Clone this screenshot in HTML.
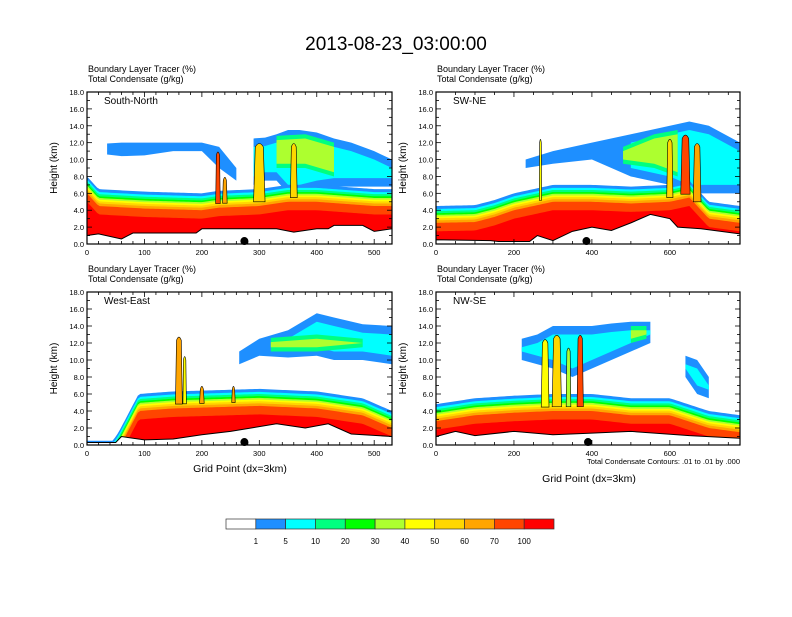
<!DOCTYPE html>
<html><head><meta charset="utf-8"><style>
body{margin:0;background:#fff;}
svg text{font-family:"Liberation Sans",Arial,sans-serif;fill:#000;}
</style></head><body>
<svg id="chart" width="792" height="612" xmlns="http://www.w3.org/2000/svg">
<rect width="792" height="612" fill="#fff"/>
<text x="396" y="50" font-size="19" text-anchor="middle">2013-08-23_03:00:00</text>
</svg>
<script>
const colors=["#ffffff","#1e8fff","#00ffff","#00ff80","#00ff00","#adff2f","#ffff00","#ffd700","#ffa500","#ff4500","#ff0000"];
const cbLabels=["1","5","10","20","30","40","50","60","70","100"];
const panelNames=["South-North","SW-NE","West-East","NW-SE"];
const xMax=[531,780,531,780];
const terrain1=[[0,1],[20,1.2],[60,0.6],[80,1.3],[190,1.3],[200,1.8],[330,1.8],[360,1.4],[400,1.8],[420,1.8],[430,2.2],[480,2.2],[500,1.5],[531,1.8]];
const terrain2=[[0,0.5],[140,0.4],[160,0.3],[240,0.3],[260,1.0],[300,0.4],[350,1.5],[400,2.0],[450,1.6],[500,2.5],[550,3.5],[600,3.0],[620,2.0],[680,1.8],[780,1.2]];
const terrain3=[[0,0.3],[50,0.3],[60,1.0],[100,0.6],[150,0.7],[200,1.2],[250,1.6],[330,2.5],[380,2.0],[420,2.5],[460,1.3],[531,1.0]];
const terrain4=[[0,1.0],[50,1.6],[100,1.1],[200,1.6],[300,1.2],[400,1.4],[500,1.6],[650,1.1],[780,0.8]];
const pbl1=[[0,8],[20,6.5],[100,6.2],[200,6.0],[230,6.3],[300,6.5],[350,7.0],[400,7.0],[500,6.5],[531,6.5]];
const pbl2=[[0,4.5],[100,4.6],[150,5.2],[200,6.0],[300,7.0],[400,7.0],[500,6.8],[600,7.0],[650,7.5],[700,5.0],[780,4.5]];
const pbl3=[[0,0.5],[45,0.5],[55,1.5],[90,6.0],[150,6.3],[250,6.5],[300,6.6],[400,6.3],[480,5.5],[531,4.0]];
const pbl4=[[0,4.8],[100,5.5],[200,5.8],[300,6.0],[400,6.0],[500,5.5],[600,5.5],[700,4.0],[780,3.5]];
const upper1a=[[35,10.6,11.9],[60,10.4,12],[100,10.5,12],[150,11,12],[200,11,12],[230,9,11.5],[260,7.5,9]];
const upper1b=[[290,7,12.5],[310,7.5,12.6],[330,7.5,13],[350,6,13.5],[370,6,13.5],[400,6.5,13.2],[430,6.8,12.5],[460,6.8,12],[500,6.8,11],[531,6.8,10]];
const upper2=[[230,9,10],[300,9.5,11],[400,10,12],[500,8,13],[600,7,14],[650,6,14.5],[700,6,14],[780,6,12]];
const upper3=[[265,9.5,11],[300,10.5,12.5],[350,10.3,13.5],[400,10.5,15.5],[430,10,15],[480,10,14.2],[531,9.5,14]];
const upper4=[[220,10,12.5],[260,9.5,13],[300,9,14],[350,8,14],[400,9,14],[450,10,14.3],[500,11,14.5],[550,12,14.5]];
const upper4b=[[640,8,10.5],[670,6,10],[700,5.5,8]];
const inner1=[[330,9,12.8],[380,9,13],[430,8,12]];
const inner2=[[480,9.5,11.5],[560,9,13],[620,8,13.5]];
const inner3=[[320,11,12.6],[400,11,13],[480,11.5,12.5]];
const inner4=[[500,12,14],[540,12.5,14]];
const towers1=[[228,4,11,9],[300,10,12,7],[360,6,12,7],[240,4,8,8]];
const towers2=[[268,3,12.5,6],[640,12,13,9],[670,10,12,8],[600,8,12.5,7]];
const towers3=[[160,6,12.8,8],[170,3,10.5,6],[200,4,7,8],[255,3,7,8]];
const towers4=[[280,10,12.5,6],[310,12,13,7],[340,6,11.5,5],[370,8,13,9]];
const dotX=[274,386,274,390];
const terrains=[terrain1,terrain2,terrain3,terrain4];
const pbls=[pbl1,pbl2,pbl3,pbl4];
const uppers=[[upper1a,upper1b],[upper2],[upper3],[upper4,upper4b]];
const inners=[inner1,inner2,inner3,inner4];
const towersAll=[towers1,towers2,towers3,towers4];
const boxes=[[87,92,392,244],[436,92,740,244],[87,292,392,445],[436,292,740,445]];
const offsets=[0,0.35,0.6,0.85,1.05,1.25,1.45,1.7,2.0,3.0];
const NS="http://www.w3.org/2000/svg";
const svg=document.getElementById('chart');
function mk(t,a,p){const e=document.createElementNS(NS,t);for(const k in a)e.setAttribute(k,a[k]);(p||svg).appendChild(e);return e;}
function interp(arr,x){if(x<=arr[0][0])return arr[0][1];for(let i=1;i<arr.length;i++){if(x<=arr[i][0]){const a=arr[i-1],b=arr[i];return a[1]+(b[1]-a[1])*(x-a[0])/(b[0]-a[0]);}}return arr[arr.length-1][1];}
for(let p=0;p<4;p++){
  const [x0,y0,x1,y1]=boxes[p];
  const sx=v=>x0+(x1-x0)*v/xMax[p];
  const sy=v=>y1-(y1-y0)*v/18;
  const g=mk('g',{});
  
  
  const clip=mk('clipPath',{id:'c'+p},g);mk('rect',{x:x0,y:y0,width:x1-x0,height:y1-y0},clip);
  const plot=mk('g',{'clip-path':'url(#c'+p+')'},g);
  uppers[p].forEach(u=>{
    const shr=[0,0,1.0];
    for(let c=1;c<=2;c++){
      const sh=shr[c];const top=[],bot=[];
      u.forEach(s=>{if(s[2]-s[1]>2*sh+0.3){top.push(sx(s[0])+','+sy(s[2]-sh));bot.unshift(sx(s[0])+','+sy(s[1]+sh));}});
      if(top.length>1){const e=mk('polygon',{points:top.concat(bot).join(' '),fill:colors[c]},plot);}
    }
  });
  {const u=inners[p];const top=u.map(s=>sx(s[0])+','+sy(s[2]));const bot=u.map(s=>sx(s[0])+','+sy(s[1])).reverse();
   const e=mk('polygon',{points:top.concat(bot).join(' '),fill:colors[3]},plot);
   const top2=u.map(s=>sx(s[0])+','+sy(s[2]-0.5));const bot2=u.map(s=>sx(s[0])+','+sy(s[1]+0.5)).reverse();
   const e2=mk('polygon',{points:top2.concat(bot2).join(' '),fill:colors[5]},plot);}
  const N=120;
  for(let c=1;c<=10;c++){
    const pts=[];
    for(let i=0;i<=N;i++){const xv=xMax[p]*i/N;pts.push(sx(xv)+','+sy(Math.max(0,interp(pbls[p],xv)-offsets[c-1])));}
    pts.push(sx(xMax[p])+','+sy(0));pts.push(sx(0)+','+sy(0));
    const e=mk('polygon',{points:pts.join(' '),fill:colors[c]},plot);
    
    
  }
  towersAll[p].forEach(t=>{
    const base=interp(pbls[p],t[0])-1.5;
    const e=mk('path',{d:`M${sx(t[0]-t[1])},${sy(base)} L${sx(t[0]-t[1]*0.7)},${sy(t[2]-0.5)} Q${sx(t[0])},${sy(t[2]+0.3)} ${sx(t[0]+t[1]*0.7)},${sy(t[2]-0.5)} L${sx(t[0]+t[1])},${sy(base)} Z`,fill:colors[t[3]],stroke:'#000','stroke-width':0.6},plot);
    
    
  });
  const tp=terrains[p].map(s=>sx(s[0])+','+sy(s[1]));
  const tpoly=mk('polygon',{points:tp.concat([sx(xMax[p])+','+sy(0),sx(0)+','+sy(0)]).join(' '),fill:'#fff',stroke:'#000','stroke-width':1},plot);
  
  
  const dot=mk('circle',{cx:sx(dotX[p]),cy:sy(0.35),r:4,fill:'#000'},g);
  
  
  mk('rect',{x:x0,y:y0,width:x1-x0,height:y1-y0,fill:'none',stroke:'#000','stroke-width':1.2},g);
  for(let v=0;v<=18;v+=1){const y=sy(v);const L=v%2==0?5:3;
    mk('line',{x1:x0,y1:y,x2:x0+L,y2:y,stroke:'#000','stroke-width':0.8},g);
    mk('line',{x1:x1,y1:y,x2:x1-L,y2:y,stroke:'#000','stroke-width':0.8},g);
    if(v%2==0){const t=mk('text',{x:x0-3,y:y+3,'font-size':7.5,'text-anchor':'end'},g);t.textContent=v.toFixed(1);}}
  const step=xMax[p]>600?200:100,mstep=xMax[p]>600?50:20;
  for(let v=0;v<=xMax[p];v+=mstep){const x=sx(v);const maj=v%step==0;const L=maj?5:3;
    mk('line',{x1:x,y1:y1,x2:x,y2:y1-L,stroke:'#000','stroke-width':0.8},g);
    mk('line',{x1:x,y1:y0,x2:x,y2:y0+L,stroke:'#000','stroke-width':0.8},g);
    if(maj){const t=mk('text',{x:x,y:y1+11,'font-size':7.5,'text-anchor':'middle'},g);t.textContent=v;}}
  const yt=mk('text',{x:0,y:0,'font-size':10,'text-anchor':'middle',transform:`translate(${x0-30},${(y0+y1)/2}) rotate(-90)`},g);yt.textContent='Height (km)';
  const nm=mk('text',{x:x0+17,y:y0+12,'font-size':10},g);nm.textContent=panelNames[p];
  const h1=mk('text',{x:x0+1,y:y0-20,'font-size':9},g);h1.textContent='Boundary Layer Tracer   (%)';
  const h2=mk('text',{x:x0+1,y:y0-10,'font-size':9},g);h2.textContent='Total Condensate   (g/kg)';
}
const xt1=mk('text',{x:240,y:472,'font-size':10.5,'text-anchor':'middle'});xt1.textContent='Grid Point (dx=3km)';
const xt2=mk('text',{x:589,y:482,'font-size':10.5,'text-anchor':'middle'});xt2.textContent='Grid Point (dx=3km)';
const ct=mk('text',{x:740,y:464,'font-size':7.5,'text-anchor':'end'});ct.textContent='Total Condensate Contours: .01 to .01 by .000';
const bw=(554-226)/11;
for(let i=0;i<11;i++){
  const r=mk('rect',{x:226+i*bw,y:519,width:bw,height:10,fill:colors[i],stroke:'#333','stroke-width':0.7});
  
  
}
cbLabels.forEach((l,i)=>{const t=mk('text',{x:226+(i+1)*bw,y:544,'font-size':8,'text-anchor':'middle'});t.textContent=l;
  
  });
</script>
</body></html>
